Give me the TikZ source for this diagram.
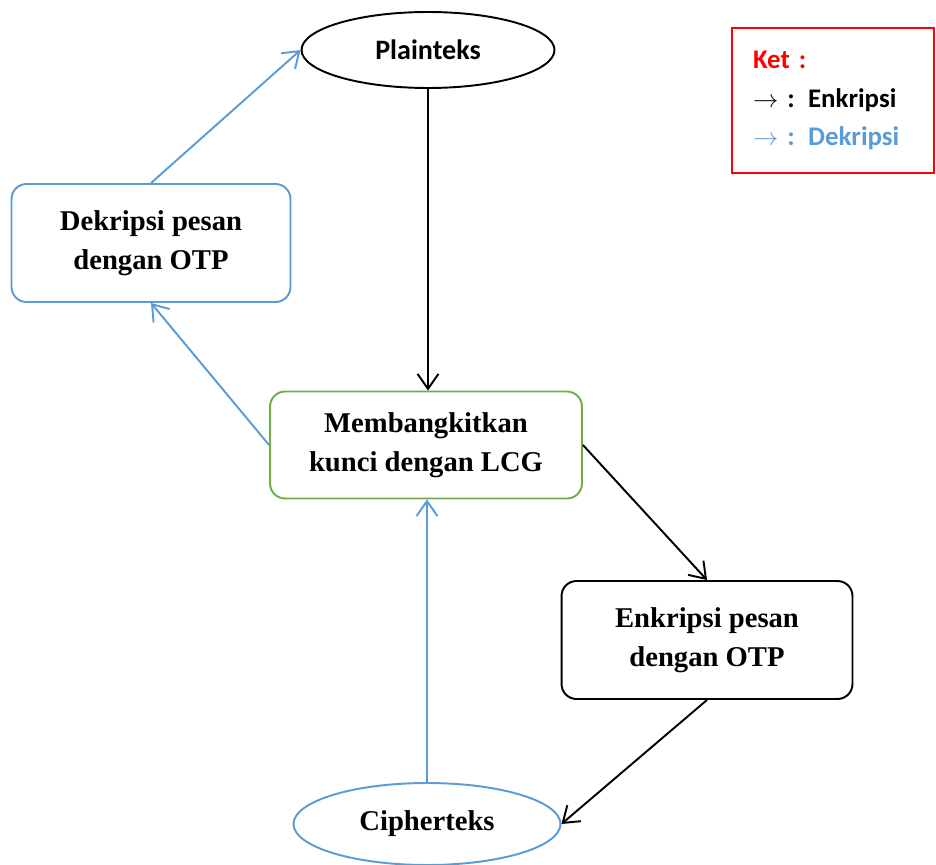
\documentclass[tikz,border=0pt]{standalone}
\usepackage{fontspec}
\setmainfont{Liberation Serif}
\newfontfamily\calibri{Carlito}
\usetikzlibrary{shapes.geometric, positioning, arrows.meta}
\definecolor{ketblue}{RGB}{91,155,213}
\definecolor{ketgreen}{RGB}{112,173,71}

\begin{document}
\begin{tikzpicture}[x=0.02cm, y=-0.02cm,
    every node/.style={font=\fontsize{16.3}{22.5}\selectfont\bfseries},
    proses/.style={draw, rounded corners=0.3cm, line width=1.1pt, align=center, inner sep=0pt},
    data/.style={draw, ellipse, line width=1.1pt, inner sep=0pt},
    panahenk/.style={-{Straight Barb[length=0.3cm, width=0.42cm]}, line width=1.1pt},
    panahdek/.style={panahenk, ketblue}]
    \useasboundingbox (0,0) rectangle (936,865);

    % Data (ellipses)
    \node[data, minimum width=5.06cm, minimum height=1.52cm, font=\calibri\fontsize{16}{22.5}\selectfont\bfseries] (plainteks) at (428,50) {Plainteks};
    \node[data, ketblue, text=black, minimum width=5.34cm, minimum height=1.64cm] (cipherteks) at (427,824) {Cipherteks};

    % Proses
    \node[proses, ketblue, text=black, minimum width=5.58cm, minimum height=2.36cm] (dekripsi) at (151,243) {Dekripsi pesan\\dengan OTP};
    \node[proses, ketgreen, text=black, minimum width=6.24cm, minimum height=2.14cm] (lcg) at (426,445) {Membangkitkan\\kunci dengan LCG};
    \node[proses, minimum width=5.82cm, minimum height=2.36cm] (enkripsi) at (707,640) {Enkripsi pesan\\dengan OTP};

    % Keterangan
    \node[draw=red, line width=1.1pt, minimum width=4.04cm, minimum height=2.9cm, inner xsep=0.42cm,
          text width=3.2cm, align=left, font=\calibri\fontsize{15.3}{21.8}\selectfont\bfseries] (ket) at (833,100.5)
        {\textcolor{red}{Ket :}\\$\rightarrow$ : Enkripsi\\\textcolor{ketblue}{$\rightarrow$ : Dekripsi}};

    % Enkripsi
    \draw[panahenk] (plainteks.south) -- (plainteks.south |- lcg.north);
    \draw[panahenk] (lcg.east) -- (enkripsi.north);
    \draw[panahenk] (enkripsi.south) -- (cipherteks.east);

    % Dekripsi
    \draw[panahdek] (cipherteks.north) -- (cipherteks.north |- lcg.south);
    \draw[panahdek] (lcg.west) -- (dekripsi.south);
    \draw[panahdek] (dekripsi.north) -- (plainteks.west);
\end{tikzpicture}
\end{document}
